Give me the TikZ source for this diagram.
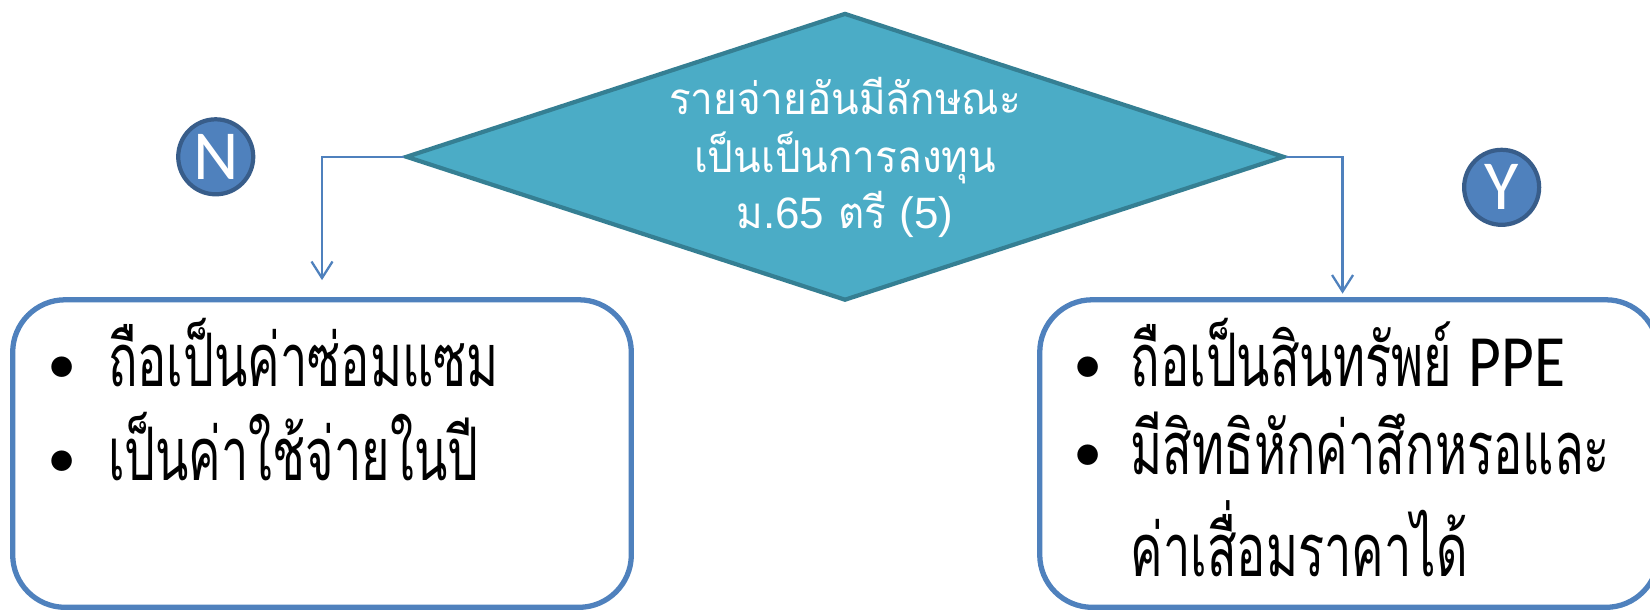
\documentclass[tikz,border=0pt]{standalone}
\usepackage{fontspec}
\newfontfamily\thaifont[Script=Thai]{Loma}
\newfontfamily\thaiitem[Script=Thai,FakeStretch=0.66]{Loma}
\newfontfamily\thaidec[Script=Thai,FakeStretch=0.92]{Loma}
\newfontfamily\latinfont{Carlito}
\newfontfamily\ppefont[FakeStretch=0.86]{Carlito}
\newfontfamily\decdigits{Liberation Sans}
\usetikzlibrary{shapes.geometric,arrows.meta,positioning}

\definecolor{decfill}{HTML}{4BACC6}
\definecolor{decline}{HTML}{357F93}
\definecolor{flowblue}{HTML}{4F81BD}
\definecolor{ringblue}{HTML}{385D8A}

\newcommand\itembullet{{\thaifont\fontsize{34}{34}\selectfont\textbullet}}

\tikzset{
  decision/.style={diamond, draw=decline, fill=decfill, line width=2.4pt,
    minimum width=17.57cm, minimum height=5.75cm, aspect=3.06, inner sep=0pt},
  dectext/.style={text=white, anchor=base, inner sep=0pt,
    font=\thaidec\fontsize{25}{32}\selectfont},
  answer/.style={circle, draw=ringblue, fill=flowblue, line width=2.4pt,
    minimum size=1.5cm, inner sep=0pt, text=white,
    font=\latinfont\fontsize{40}{40}\selectfont},
  resultbox/.style={rectangle, rounded corners=1.05cm, draw=flowblue,
    line width=3pt, fill=white, minimum width=12.37cm, minimum height=6.15cm},
  flow/.style={draw=flowblue, line width=1.3pt,
    -{Straight Barb[length=0.33cm,width=0.42cm,line width=1.3pt]}},
  itemtext/.style={anchor=base west, inner sep=0pt,
    font=\thaiitem\fontsize{42}{49}\selectfont}
}

\begin{document}
\begin{tikzpicture}[x=0.021046cm,y=-0.021046cm]
  \useasboundingbox (0,0) rectangle (1568,579.7);

  % decision and answers
  \node[decision] (dec) at (803,149) {};
  \node[dectext] (question) at (803,109) {%
    \begin{tabular}[t]{@{}c@{}}
      รายจ่ายอันมีลักษณะ\\
      เป็นเป็นการลงทุน\\
      ม{\decdigits.65} ตรี {\decdigits(5)}
    \end{tabular}};
  \node[answer] (no) at (205,149) {N};
  \node[answer] (yes) at (1427,178) {Y};

  % result boxes
  \node[resultbox] (nbox) at (306,431) {};
  \node[resultbox] (ybox) at (1282,431) {};

  \node[itemtext] (nitems) at (46,367) {%
    \begin{tabular}[t]{@{}l@{\hspace{18pt}}l@{}}
      \itembullet & ถือเป็นค่าซ่อมแซม\\
      \itembullet & เป็นค่าใช้จ่ายในปี
    \end{tabular}};
  \node[itemtext] (yitems) at (1021,367) {%
    \begin{tabular}[t]{@{}l@{\hspace{16pt}}l@{}}
      \itembullet & ถือเป็นสินทรัพย์ {\ppefont\fontsize{42}{42}\selectfont PPE}\\
      \itembullet & มีสิทธิหักค่าสึกหรอและ\\
                  & ค่าเสื่อมราคาได้
    \end{tabular}};

  % connectors
  \draw[flow] (dec.west) -| ([yshift=0.34cm]nbox.north);
  \draw[flow] (dec.east) -| ([xshift=-0.13cm,yshift=0.07cm]ybox.north);
\end{tikzpicture}
\end{document}
